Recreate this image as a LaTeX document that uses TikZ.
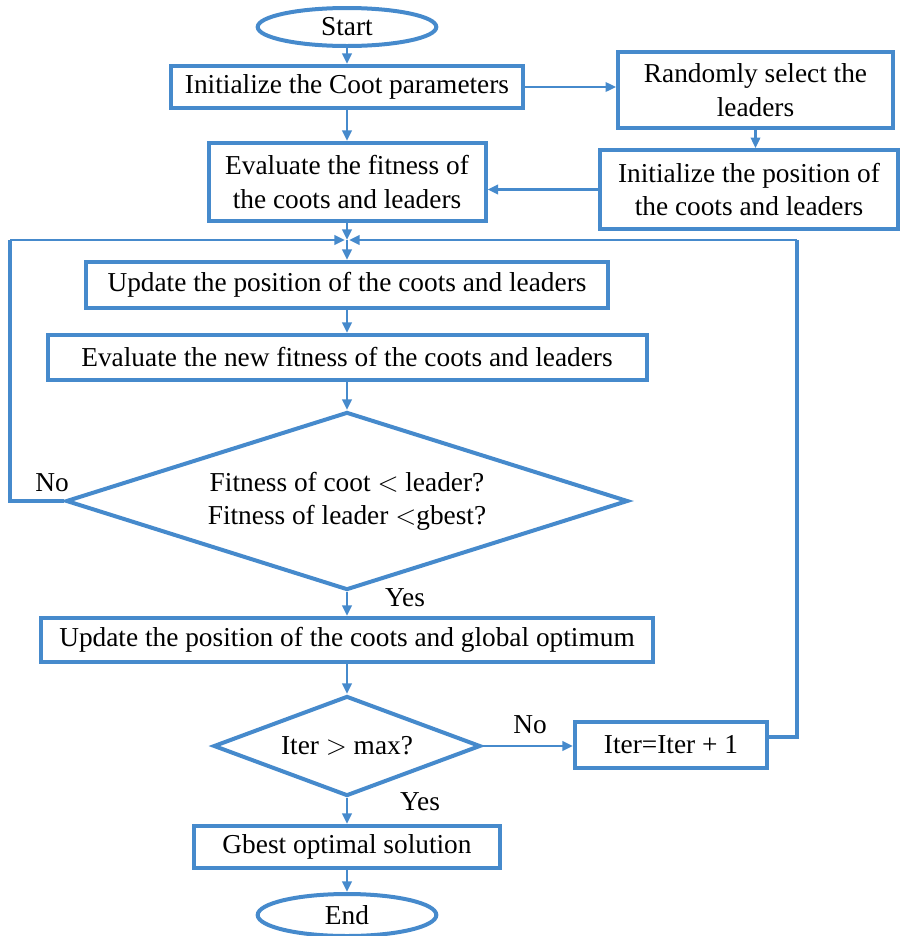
\documentclass[tikz,border=0pt]{standalone}
\usepackage{fontspec}
\setmainfont{Liberation Serif}
\usetikzlibrary{shapes.geometric,arrows.meta,calc}
\definecolor{fblue}{RGB}{70,138,204}
\tikzset{
  box/.style={draw=fblue,line width=3pt,fill=white,inner sep=2pt,align=center,font=\fontsize{20.5}{25}\selectfont},
  term/.style={ellipse,draw=fblue,line width=3pt,fill=white,inner sep=0pt,font=\fontsize{20.5}{25}\selectfont},
  dec/.style={diamond,draw=fblue,line width=3pt,fill=white,inner sep=0pt,align=center,font=\fontsize{20.5}{25}\selectfont},
  conn/.style={draw=fblue,line width=2.2pt,-{Triangle[length=8pt,width=7pt]}},
  line/.style={draw=fblue,line width=2.6pt},
  lbl/.style={font=\fontsize{20.5}{25}\selectfont,inner sep=0pt}
}
\begin{document}
\begin{tikzpicture}[x=0.75pt,y=-0.75pt]
\useasboundingbox (0,0) rectangle (904,936);
\node[term,minimum width=134pt,minimum height=28.5pt] (start) at (347,27) {Start};
\node[box,minimum width=264pt,minimum height=31.5pt] (init) at (347,87) {Initialize the Coot parameters};
\node[box,minimum width=206pt,minimum height=57pt] (rand) at (755.5,90) {Randomly select the\\leaders};
\node[box,minimum width=207.75pt,minimum height=58.5pt] (eval) at (347,182) {Evaluate the fitness of\\the coots and leaders};
\node[box,minimum width=223.5pt,minimum height=59pt] (ipos) at (749,189.5) {Initialize the position of\\the coots and leaders};
\coordinate (J) at (347,240);
\node[box,minimum width=391.5pt,minimum height=34.5pt] (upd) at (347,285) {Update the position of the coots and leaders};
\node[box,minimum width=449.25pt,minimum height=33.75pt] (evnew) at (347,357.5) {Evaluate the new fitness of the coots and leaders};
\node[dec,aspect=3.16,minimum width=421.5pt,minimum height=133.5pt] (d1) at (347,501) {Fitness of coot $<$ leader?\\Fitness of leader $<$gbest?};
\node[box,minimum width=459pt,minimum height=33pt] (updg) at (347,640) {Update the position of the coots and global optimum};
\node[dec,aspect=2.67,minimum width=200.25pt,minimum height=75pt] (d2) at (347,746) {Iter $>$ max?};
\node[box,minimum width=144pt,minimum height=34.5pt] (iter) at (671,745) {Iter=Iter + 1};
\node[box,minimum width=230pt,minimum height=31.5pt] (gbest) at (347,847) {Gbest optimal solution};
\node[term,minimum width=134pt,minimum height=31.5pt] (end) at (347,915) {End};
\coordinate (L1) at (10,501);
\coordinate (L2) at (10,240);
\coordinate (R1) at (797,737);
\coordinate (R2) at (797,240);
\coordinate (IE) at (iter.east |- R1);
% connectors
\draw[conn] (start) -- (init);
\draw[conn] (init.east) -- (init.east -| rand.west);
\draw[conn] (rand.south) -- (rand.south |- ipos.north);
\draw[conn] (ipos.west) -- (ipos.west -| eval.east);
\draw[conn] (init) -- (eval);
\draw[conn] (eval) -- (J);
\draw[conn] (J) -- (upd);
\draw[conn] (upd) -- (evnew);
\draw[conn] (evnew) -- (d1);
\draw[line] (d1.west) -- (L1) -- (L2);
\draw[conn] (L2) -- ($(J)+(-2,0)$);
\draw[conn] (d1) -- (updg);
\draw[conn] (updg) -- (d2);
\draw[conn] (d2.east) -- (d2.east -| iter.west);
\draw[line] (IE) -- (R1) -- (R2);
\draw[conn] (R2) -- ($(J)+(2,0)$);
\draw[conn] (d2) -- (gbest);
\draw[conn] (gbest) -- (end);
% labels
\node[lbl] (no1) at (52,483) {No};
\node[lbl] (yes1) at (405,598) {Yes};
\node[lbl] (no2) at (530,725) {No};
\node[lbl] (yes2) at (420,802) {Yes};
\end{tikzpicture}
\end{document}
